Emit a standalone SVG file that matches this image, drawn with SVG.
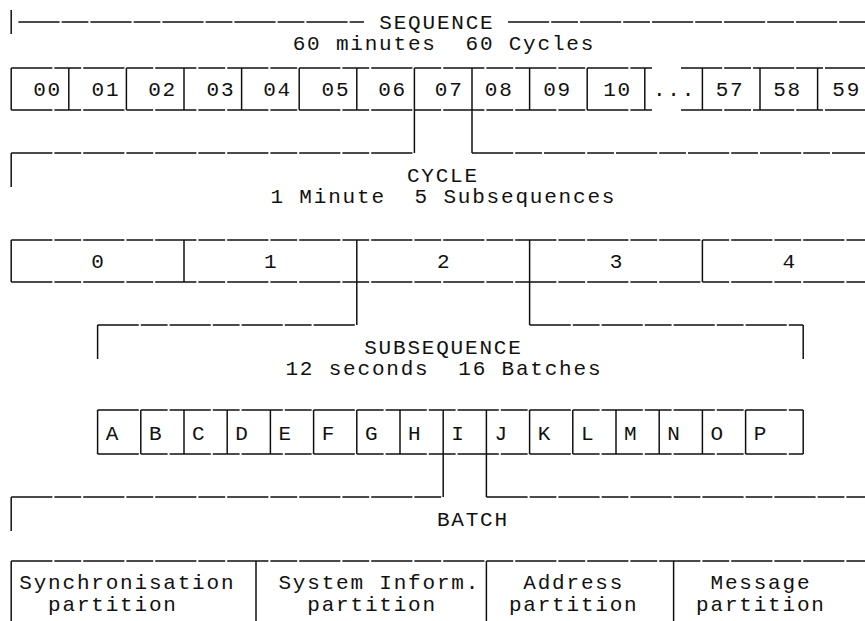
<svg xmlns="http://www.w3.org/2000/svg" width="865" height="621" viewBox="0 0 865 621">
<style>
  text { font-family: "Liberation Mono", "DejaVu Sans Mono", monospace; font-size: 21px; letter-spacing: 1.8px; fill: #111; text-anchor: middle; white-space: pre; }
  line { stroke: #111; stroke-width: 1.5; }
  .h { stroke-dasharray: 41.2 2 26.8 2; }
</style>
<rect width="865" height="621" fill="#fff"/>

<g id="sequence-header">
  <line x1="11.2" y1="10" x2="11.2" y2="34"/>
  <line class="h" x1="18.4" y1="22" x2="364" y2="22"/>
  <line class="h" x1="508" y1="22" x2="865" y2="22"/>
  <text x="436.9" y="29">SEQUENCE</text>
  <text x="443.9" y="50" xml:space="preserve">60 minutes  60 Cycles</text>
</g>

<g id="sequence-row">
  <line class="h" x1="11.2" y1="68" x2="652" y2="68"/>
  <line class="h" x1="681" y1="68" x2="865" y2="68"/>
  <line class="h" x1="11.2" y1="110" x2="652" y2="110"/>
  <line class="h" x1="681" y1="110" x2="865" y2="110"/>
  <g id="cycle-00"><line x1="11.2" y1="68" x2="11.2" y2="110"/><text x="47.6" y="95.5">00</text></g>
  <g id="cycle-01"><line x1="68.8" y1="68" x2="68.8" y2="110"/><text x="105.9" y="95.5">01</text></g>
  <g id="cycle-02"><line x1="126.4" y1="68" x2="126.4" y2="110"/><text x="162.6" y="95.5">02</text></g>
  <g id="cycle-03"><line x1="184" y1="68" x2="184" y2="110"/><text x="220.9" y="95.5">03</text></g>
  <g id="cycle-04"><line x1="241.6" y1="68" x2="241.6" y2="110"/><text x="277.6" y="95.5">04</text></g>
  <g id="cycle-05"><line x1="299.2" y1="68" x2="299.2" y2="110"/><text x="335.9" y="95.5">05</text></g>
  <g id="cycle-06"><line x1="356.8" y1="68" x2="356.8" y2="110"/><text x="392.6" y="95.5">06</text></g>
  <g id="cycle-07"><line x1="414.4" y1="68" x2="414.4" y2="110"/><text x="449.2" y="95.5">07</text></g>
  <g id="cycle-08"><line x1="472" y1="68" x2="472" y2="110"/><text x="499.2" y="95.5">08</text></g>
  <g id="cycle-09"><line x1="529.6" y1="68" x2="529.6" y2="110"/><text x="557.6" y="95.5">09</text></g>
  <g id="cycle-10"><line x1="587.2" y1="68" x2="587.2" y2="110"/><text x="617.6" y="95.5">10</text></g>
  <g id="cycle-dots"><line x1="644.8" y1="68" x2="644.8" y2="110"/><text x="674.5" y="95.5">...</text></g>
  <g id="cycle-57"><line x1="702.4" y1="68" x2="702.4" y2="110"/><text x="730.1" y="95.5">57</text></g>
  <g id="cycle-58"><line x1="760" y1="68" x2="760" y2="110"/><text x="787.6" y="95.5">58</text></g>
  <g id="cycle-59"><line x1="817.6" y1="68" x2="817.6" y2="110"/><text x="846.7" y="95.5">59</text></g>
</g>

<g id="cycle-header">
  <text x="442.9" y="181.5">CYCLE</text>
  <text x="443.4" y="202.5" xml:space="preserve">1 Minute  5 Subsequences</text>
</g>

<g id="cycle-row">
  <line class="h" x1="11.2" y1="240" x2="865" y2="240"/>
  <line class="h" x1="11.2" y1="282" x2="865" y2="282"/>
  <g id="subsequence-0"><line x1="11.2" y1="240" x2="11.2" y2="282"/><text x="98.5" y="268">0</text></g>
  <g id="subsequence-1"><line x1="184" y1="240" x2="184" y2="282"/><text x="271.3" y="268">1</text></g>
  <g id="subsequence-2"><line x1="356.8" y1="240" x2="356.8" y2="282"/><text x="444.1" y="268">2</text></g>
  <g id="subsequence-3"><line x1="529.6" y1="240" x2="529.6" y2="282"/><text x="616.9" y="268">3</text></g>
  <g id="subsequence-4"><line x1="702.4" y1="240" x2="702.4" y2="282"/><text x="789.7" y="268">4</text></g>
</g>

<g id="subsequence-header">
  <text x="443.4" y="353.5">SUBSEQUENCE</text>
  <text x="443.9" y="374.5" xml:space="preserve">12 seconds  16 Batches</text>
</g>

<g id="subsequence-row">
  <line class="h" x1="97.6" y1="410" x2="803.2" y2="410"/>
  <line class="h" x1="97.6" y1="454" x2="803.2" y2="454"/>
  <line x1="803.2" y1="410" x2="803.2" y2="454"/>
  <g id="batch-A"><line x1="97.6" y1="410" x2="97.6" y2="454"/><text x="112.9" y="439.5">A</text></g>
  <g id="batch-B"><line x1="140.8" y1="410" x2="140.8" y2="454"/><text x="156.1" y="439.5">B</text></g>
  <g id="batch-C"><line x1="184" y1="410" x2="184" y2="454"/><text x="199.3" y="439.5">C</text></g>
  <g id="batch-D"><line x1="227.2" y1="410" x2="227.2" y2="454"/><text x="242.5" y="439.5">D</text></g>
  <g id="batch-E"><line x1="270.4" y1="410" x2="270.4" y2="454"/><text x="285.7" y="439.5">E</text></g>
  <g id="batch-F"><line x1="313.6" y1="410" x2="313.6" y2="454"/><text x="328.9" y="439.5">F</text></g>
  <g id="batch-G"><line x1="356.8" y1="410" x2="356.8" y2="454"/><text x="372.1" y="439.5">G</text></g>
  <g id="batch-H"><line x1="400" y1="410" x2="400" y2="454"/><text x="415.3" y="439.5">H</text></g>
  <g id="batch-I"><line x1="443.2" y1="410" x2="443.2" y2="454"/><text x="458.5" y="439.5">I</text></g>
  <g id="batch-J"><line x1="486.4" y1="410" x2="486.4" y2="454"/><text x="501.7" y="439.5">J</text></g>
  <g id="batch-K"><line x1="529.6" y1="410" x2="529.6" y2="454"/><text x="544.9" y="439.5">K</text></g>
  <g id="batch-L"><line x1="572.8" y1="410" x2="572.8" y2="454"/><text x="588.1" y="439.5">L</text></g>
  <g id="batch-M"><line x1="616" y1="410" x2="616" y2="454"/><text x="631.3" y="439.5">M</text></g>
  <g id="batch-N"><line x1="659.2" y1="410" x2="659.2" y2="454"/><text x="674.5" y="439.5">N</text></g>
  <g id="batch-O"><line x1="702.4" y1="410" x2="702.4" y2="454"/><text x="717.7" y="439.5">O</text></g>
  <g id="batch-P"><line x1="745.6" y1="410" x2="745.6" y2="454"/><text x="760.9" y="439.5">P</text></g>
</g>

<g id="batch-header">
  <text x="472.9" y="525.5">BATCH</text>
</g>

<g id="batch-row">
  <line class="h" x1="11.2" y1="561" x2="865" y2="561"/>
  <g id="sync-partition"><line x1="11.2" y1="561" x2="11.2" y2="621"/><text x="127.3" y="589">Synchronisation</text><text x="112.9" y="610.5">partition</text></g>
  <g id="sysinfo-partition"><line x1="256" y1="561" x2="256" y2="621"/><text x="379.3" y="589">System Inform.</text><text x="372.1" y="610.5">partition</text></g>
  <g id="address-partition"><line x1="486.4" y1="561" x2="486.4" y2="621"/><text x="573.7" y="589">Address</text><text x="573.7" y="610.5">partition</text></g>
  <g id="message-partition"><line x1="673.6" y1="561" x2="673.6" y2="621"/><text x="760.9" y="589">Message</text><text x="760.9" y="610.5">partition</text></g>
</g>

<g id="connectors">
  <line x1="414.4" y1="110" x2="414.4" y2="153"/>
  <line x1="472" y1="110" x2="472" y2="153"/>
  <line class="h" x1="11.2" y1="153" x2="414.4" y2="153"/>
  <line class="h" x1="472" y1="153" x2="865" y2="153"/>
  <line x1="11.2" y1="153" x2="11.2" y2="187"/>

  <line x1="356.8" y1="282" x2="356.8" y2="325"/>
  <line x1="529.6" y1="282" x2="529.6" y2="325"/>
  <line class="h" x1="97.6" y1="325" x2="356.8" y2="325"/>
  <line class="h" x1="529.6" y1="325" x2="803.2" y2="325"/>
  <line x1="97.6" y1="325" x2="97.6" y2="359"/>
  <line x1="803.2" y1="325" x2="803.2" y2="359"/>

  <line x1="443.2" y1="454" x2="443.2" y2="497"/>
  <line x1="486.4" y1="454" x2="486.4" y2="497"/>
  <line class="h" x1="11.2" y1="497" x2="443.2" y2="497"/>
  <line class="h" x1="486.4" y1="497" x2="865" y2="497"/>
  <line x1="11.2" y1="497" x2="11.2" y2="531"/>
</g>
</svg>
